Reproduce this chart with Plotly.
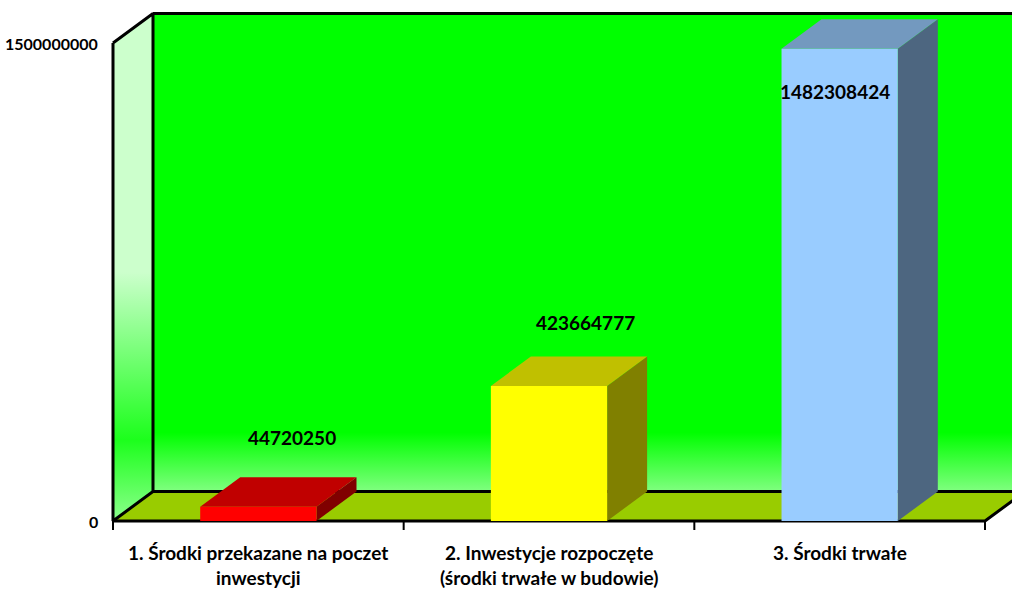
import plotly.graph_objects as go

# ---------------- data ----------------
categories = [
    "1. Środki przekazane na poczet\ninwestycji",
    "2. Inwestycje rozpoczęte\n(środki trwałe w budowie)",
    "3. Środki trwałe",
]
values = [44720250, 423664777, 1482308424]
value_labels = ["44720250", "423664777", "1482308424"]
y_tick_values = [0, 1500000000]
y_tick_labels = ["0", "1500000000"]

# ---------------- style ----------------
front_colors = ["#FF0000", "#FFFF00", "#99CCFF"]
top_colors = ["#C00000", "#C0C000", "#7399BF"]
side_colors = ["#800000", "#808000", "#4D6680"]
label_xshift = [34, 36, -5]
label_yshift = [69, 63, -43]

FONT = "Lato, 'Open Sans', sans-serif"
W, H = 1012, 590
PX_LEFT, PX_RIGHT = 113, 985      # front plane x extent (px)
PX_FLOOR, PX_TOP = 521, 43        # front plane y of 0 and of axis max (px)
DEPTH_PX_X, DEPTH_PX_Y = 40, 29.5  # 3-D depth offset (px)
BAR_W = 0.4

ncat = len(categories)
VMAX = y_tick_values[-1]
UPX = (PX_RIGHT - PX_LEFT) / ncat
VPX = (PX_FLOOR - PX_TOP) / VMAX
DX = DEPTH_PX_X / UPX
DY = DEPTH_PX_Y / VPX
x_range = [-PX_LEFT / UPX, (W - PX_LEFT) / UPX]
y_range = [-(H - PX_FLOOR) / VPX, PX_FLOOR / VPX]

fig = go.Figure()


def poly(xs, ys, color=None, gradient=None):
    kw = dict(fillcolor=color) if gradient is None else dict(fillgradient=gradient)
    fig.add_trace(go.Scatter(
        x=list(xs) + [xs[0]], y=list(ys) + [ys[0]], mode="lines", fill="toself",
        line=dict(width=0, color=color or "rgba(0,0,0,0)"), hoverinfo="skip",
        showlegend=False, **kw))


def line(xs, ys, width=3, color="black"):
    fig.add_trace(go.Scatter(
        x=xs, y=ys, mode="lines", line=dict(width=width, color=color),
        hoverinfo="skip", showlegend=False))


X0, X1 = 0, ncat
# back wall
poly([X0 + DX, X1 + DX, X1 + DX, X0 + DX], [DY, DY, VMAX + DY, VMAX + DY],
     gradient=dict(type="vertical", start=DY, stop=VMAX + DY,
                   colorscale=[[0, "#80FF80"], [0.123, "#00FF00"], [1, "#00FF00"]]))
# left wall
poly([X0, X0 + DX, X0 + DX, X0], [0, DY, VMAX + DY, VMAX],
     gradient=dict(type="vertical", start=0, stop=VMAX + DY,
                   colorscale=[[0, "#8CFF8C"], [0.16, "#1CFF1C"], [0.49, "#CCFFCC"], [1, "#CCFFCC"]]))
# floor
poly([X0, X0 + DX, X1 + DX, X1], [0, DY, DY, 0], color="#99CC00")

# wall / floor outlines
line([X0, X0 + DX, X0 + DX, X0, X0], [VMAX, VMAX + DY, DY, 0, VMAX])
line([X0 + DX, X1 + DX], [VMAX + DY, VMAX + DY])
line([X0 + DX, X1 + DX], [DY, DY])
line([X0, X1, X1 + DX], [0, 0, DY])
tick_len = 9 / VPX
for k in range(ncat + 1):
    line([k, k], [0, -tick_len], width=2)

# bars
for i, v in enumerate(values):
    a = i + 0.5 - BAR_W / 2
    b = i + 0.5 + BAR_W / 2
    poly([b, b + DX, b + DX, b], [0, DY, v + DY, v], color=side_colors[i])
    poly([a, b, b + DX, a + DX], [v, v, v + DY, v + DY], color=top_colors[i])
    poly([a, b, b, a], [0, 0, v, v], color=front_colors[i])

annotations = []
for i, v in enumerate(values):
    annotations.append(dict(
        x=i + 0.5, y=v, xref="x", yref="y", text="<b>%s</b>" % value_labels[i],
        showarrow=False, xshift=label_xshift[i], yshift=label_yshift[i],
        xanchor="center", yanchor="middle",
        font=dict(family=FONT, size=19, color="black")))

for tv, tl in zip(y_tick_values, y_tick_labels):
    annotations.append(dict(
        x=0, y=tv, xref="x", yref="y", text="<b>%s</b>" % tl, showarrow=False,
        xshift=-13, xanchor="right", yanchor="middle",
        font=dict(family=FONT, size=16, color="black")))

for i, cat in enumerate(categories):
    for j, part in enumerate(cat.split("\n")):
        annotations.append(dict(
            x=i + 0.5, y=0, xref="x", yref="y", text="<b>%s</b>" % part,
            showarrow=False, yshift=-31 - 25 * j, xanchor="center", yanchor="middle",
            font=dict(family=FONT, size=19, color="black")))

fig.update_layout(
    width=W, height=H, margin=dict(l=0, r=0, t=0, b=0),
    paper_bgcolor="white", plot_bgcolor="white",
    xaxis=dict(range=x_range, visible=False, fixedrange=True),
    yaxis=dict(range=y_range, visible=False, fixedrange=True),
    annotations=annotations, showlegend=False,
)

fig.write_html(
    "out.html",
    config={"displayModeBar": False},
    post_script="document.body.style.margin='0';document.body.style.overflow='hidden';",
)
